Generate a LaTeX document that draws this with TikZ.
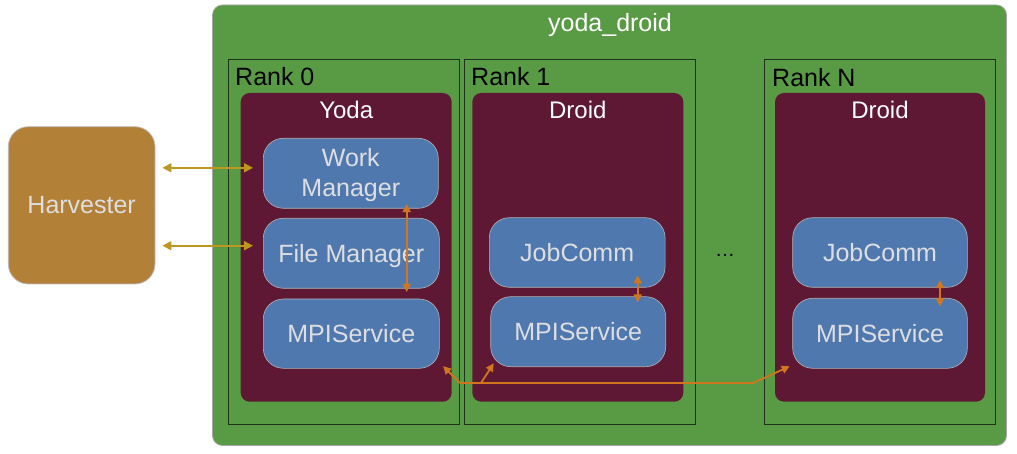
\documentclass[tikz,border=0pt]{standalone}
\usepackage{fontspec}
\setmainfont{Liberation Sans}
\usetikzlibrary{arrows.meta,calc}
\definecolor{ddgreen}{RGB}{89,154,69}
\definecolor{maroon}{RGB}{94,24,52}
\definecolor{boxblue}{RGB}{79,121,174}
\definecolor{harvbrown}{RGB}{178,128,54}
\definecolor{yarrow}{RGB}{190,150,32}
\definecolor{oarrow}{RGB}{208,118,30}
\definecolor{boxtext}{RGB}{222,222,226}
\definecolor{rankline}{RGB}{30,50,30}
\tikzset{
  outerbox/.style={draw=black!35, line width=0.8pt, fill=ddgreen, rounded corners=10pt, inner sep=0pt},
  rankbox/.style={draw=rankline, line width=0.8pt, inner sep=0pt},
  rolebox/.style={fill=maroon, rounded corners=9pt, inner sep=0pt},
  compbox/.style={draw=black!30, line width=0.6pt, fill=boxblue, rounded corners=20pt, inner sep=0pt,
    text=boxtext, font=\fontsize{25pt}{30pt}\selectfont, align=center},
  harvbox/.style={draw=black!25, line width=0.8pt, fill=harvbrown, rounded corners=20pt, inner sep=0pt,
    text=boxtext, font=\fontsize{25pt}{30pt}\selectfont},
  ranklbl/.style={anchor=base west, inner sep=0pt, text=black, font=\fontsize{25pt}{30pt}\selectfont},
  rolelbl/.style={anchor=base, inner sep=0pt, text=white, font=\fontsize{24pt}{29pt}\selectfont},
  harr/.style={yarrow, line width=1.8pt, {Triangle[length=9pt,width=9pt]}-{Triangle[length=9pt,width=9pt]}},
  oarr/.style={oarrow, line width=1.8pt, {Triangle[length=8pt,width=8pt]}-{Triangle[length=8pt,width=8pt]}},
  oline/.style={oarrow, line width=1.8pt},
  oone/.style={oarrow, line width=1.8pt, -{Triangle[length=8pt,width=8pt]}},
}
\begin{document}
\begin{tikzpicture}[x=1pt,y=-1pt]
\useasboundingbox (0,0) rectangle (1017,454);
% outer container
\node[outerbox, minimum width=794pt, minimum height=440.5pt] (dd) at (609.5,225.25) {};
\node[anchor=base, inner sep=0pt, text=white, font=\fontsize{25pt}{30pt}\selectfont] (ddlbl) at (610,32) {yoda\_droid};
% rank boxes
\node[rankbox, minimum width=231pt, minimum height=365pt] (r0) at (343.8,241.8) {};
\node[rankbox, minimum width=231pt, minimum height=365pt] (r1) at (579.8,241.8) {};
\node[rankbox, minimum width=231.4pt, minimum height=365pt] (rn) at (880,241.8) {};
\node[ranklbl] (r0lbl) at (235,86) {Rank 0};
\node[ranklbl] (r1lbl) at (471,86) {Rank 1};
\node[ranklbl] (rnlbl) at (772,86.5) {Rank N};
% role boxes
\node[rolebox, minimum width=211pt, minimum height=308.7pt] (yoda) at (346.2,247.35) {};
\node[rolebox, minimum width=211pt, minimum height=308.7pt] (d1) at (577.8,247.35) {};
\node[rolebox, minimum width=210pt, minimum height=308.7pt] (dn) at (880,247.35) {};
\node[rolelbl] (yodalbl) at (346.2,118.3) {Yoda};
\node[rolelbl] (d1lbl) at (577.8,118.3) {Droid};
\node[rolelbl] (dnlbl) at (880,118.3) {Droid};
% harvester
\node[harvbox, minimum width=146.7pt, minimum height=157.3pt] (harv) at (81.65,205.35) {Harvester};
% components
\node[compbox, minimum width=175pt, minimum height=70pt] (wm) at (350.8,173.3) {\rule{0pt}{22.5pt}Work\\Manager};
\node[compbox, minimum width=176pt, minimum height=70pt, text height=18pt, text depth=0pt] (fm) at (351.3,253.3) {File Manager};
\node[compbox, minimum width=176pt, minimum height=69.3pt, text height=18pt, text depth=0pt] (ympi) at (351.3,333.65) {MPIService};
\node[compbox, minimum width=175.7pt, minimum height=69.6pt, text height=18pt, text depth=0pt] (jc1) at (577.2,252.5) {JobComm};
\node[compbox, minimum width=175pt, minimum height=70pt, text height=18pt, text depth=0pt] (mp1) at (578.2,331.7) {MPIService};
\node[compbox, minimum width=174.6pt, minimum height=69.6pt, text height=18pt, text depth=0pt] (jcn) at (880,252.5) {JobComm};
\node[compbox, minimum width=174.6pt, minimum height=70pt, text height=18pt, text depth=0pt] (mpn) at (880,333.3) {MPIService};
% ellipsis
\node[anchor=base, inner sep=0pt, text=black, font=\fontsize{20pt}{24pt}\selectfont] (dots) at (725,257) {…};
% harvester connectors
\draw[harr] ($(harv.east |- wm.west)+(7,-5.5)$) -- ($(wm.west)+(-10,-5.5)$);
\draw[harr] ($(harv.east |- fm.west)+(7,-7.6)$) -- ($(fm.west)+(-10,-7.6)$);
% internal connectors
\draw[oarr] ($(wm.south)+(55.9,-4.5)$) -- ($(fm.south)+(55.4,3.4)$);
\draw[oarr] ($(jc1.south)+(60.5,-12.3)$) -- ($(mp1.north)+(59.5,6)$);
\draw[oarr] ($(jcn.south)+(60,-7.5)$) -- ($(mpn.north)+(60,8.4)$);
% MPI bus
\coordinate (j1) at (460,383);
\coordinate (j2) at (481,383);
\coordinate (j3) at (753,383);
\draw[oline] (j1) -- (j3);
\draw[oone] (j1) -- ($(ympi.south east)+(3.5,-2.5)$);
\draw[oone] (j2) -- ($(mp1.south west)+(3.3,-3.7)$);
\draw[oone] (j3) -- ($(mpn.south west)+(-2.7,-2.3)$);
\end{tikzpicture}
\end{document}
